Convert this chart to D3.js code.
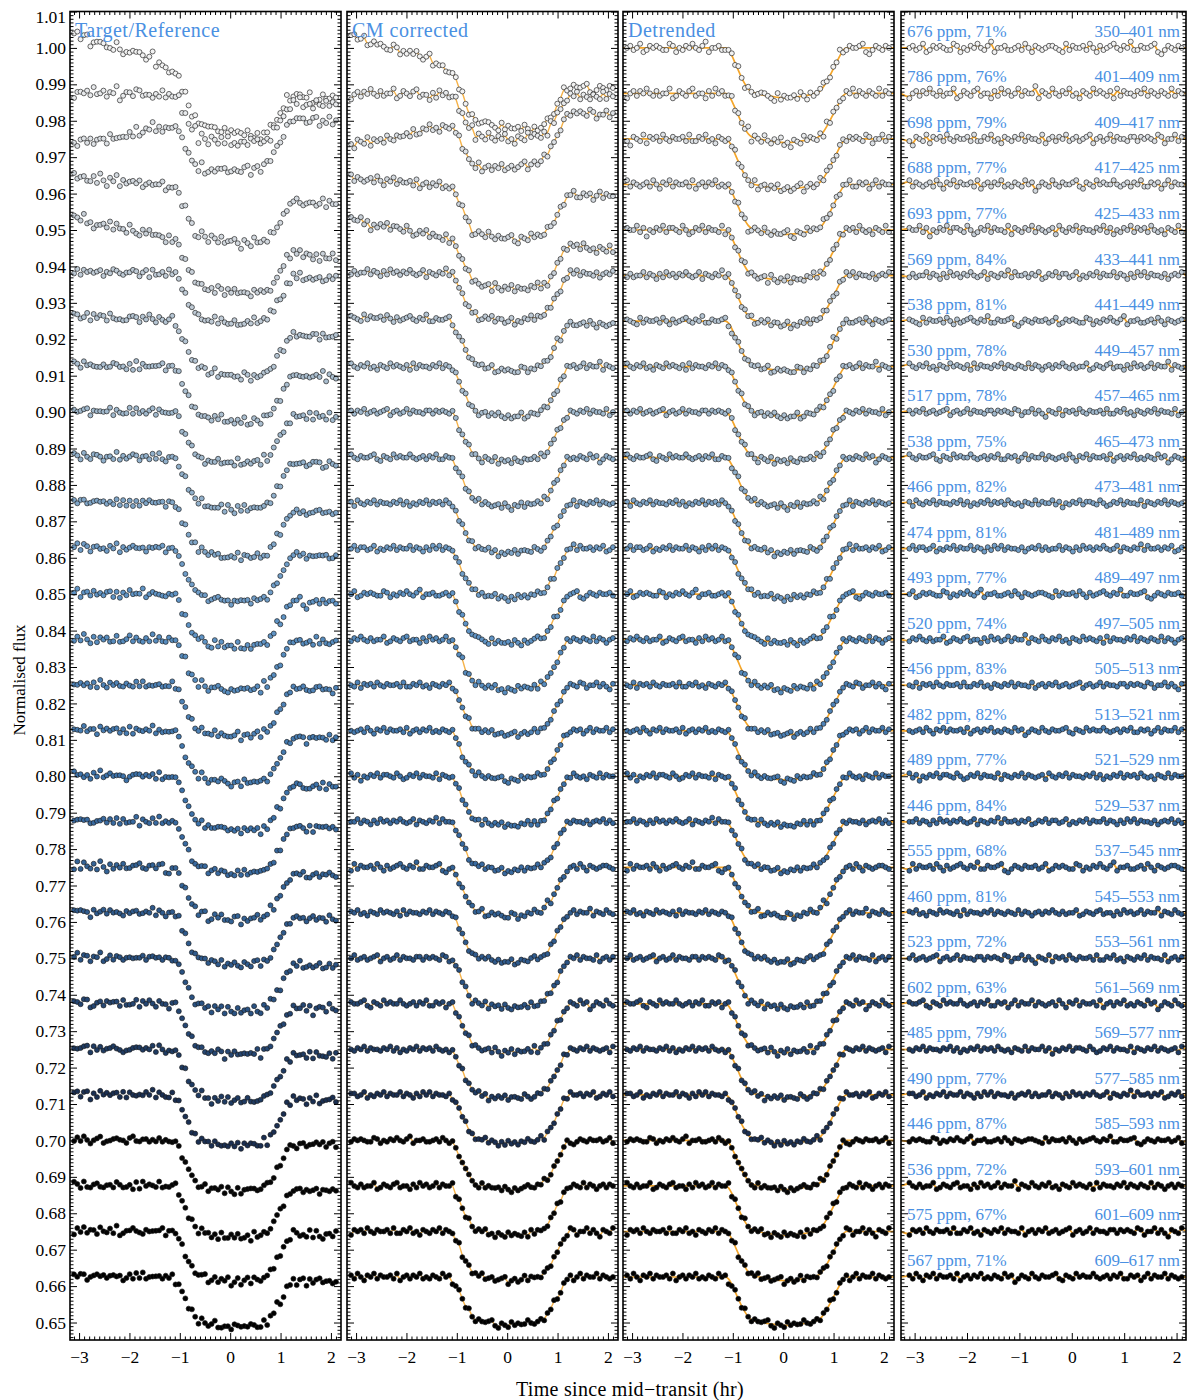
<!DOCTYPE html>
<html>
<head>
<meta charset="utf-8">
<script src="https://cdn.jsdelivr.net/npm/d3@7"></script>
<style>
  body { margin: 0; background: #fff; }
  svg { display: block; font-family: "Liberation Serif", "Times New Roman", serif; }
</style>
</head>
<body>
<div id="chart"></div>
<script>
// ---- data ----

// time since mid-transit (hr) of each exposure
const times = [
  -3.100, -3.035, -2.970, -2.905, -2.840, -2.775, -2.710, -2.645, -2.580, -2.515,
  -2.450, -2.385, -2.320, -2.255, -2.190, -2.125, -2.060, -1.995, -1.930, -1.865,
  -1.800, -1.735, -1.670, -1.605, -1.540, -1.475, -1.410, -1.345, -1.280, -1.215,
  -1.150, -1.085, -1.020, -0.955, -0.890, -0.825, -0.760, -0.695, -0.630, -0.565,
  -0.500, -0.435, -0.370, -0.305, -0.240, -0.175, -0.110, -0.045, 0.020, 0.085,
  0.150, 0.215, 0.280, 0.345, 0.410, 0.475, 0.540, 0.605, 0.670, 0.735,
  0.800, 0.865, 0.930, 0.995, 1.060, 1.125, 1.190, 1.255, 1.320, 1.385,
  1.450, 1.515, 1.580, 1.645, 1.710, 1.775, 1.840, 1.905, 1.970, 2.035,
  2.100
];

// transit model as a fraction of the full depth, one value per exposure
const transitShape = [
  0, 0, 0, 0, 0, 0, 0, 0, 0, 0,
  0, 0, 0, 0, 0, 0, 0, 0, 0, 0,
  0, 0, 0, 0, 0, 0, 0, 0, 0, 0,
  0, 0.04, 0.15, 0.30, 0.45, 0.60, 0.72, 0.82, 0.88, 0.905,
  0.92, 0.935, 0.95, 0.96, 0.97, 0.98, 0.99, 0.995, 1.0, 1.0,
  0.995, 0.99, 0.98, 0.97, 0.96, 0.95, 0.935, 0.92, 0.90, 0.86,
  0.78, 0.67, 0.55, 0.42, 0.29, 0.16, 0.05, 0, 0, 0,
  0, 0, 0, 0, 0, 0, 0, 0, 0, 0,
  0
];

// out-of-transit level of each light curve (offset for display)
const baselines = [
  1.0000, 0.9875, 0.9750, 0.9625, 0.9500, 0.9375, 0.9250, 0.9125, 0.9000, 0.8875,
  0.8750, 0.8625, 0.8500, 0.8375, 0.8250, 0.8125, 0.8000, 0.7875, 0.7750, 0.7625,
  0.7500, 0.7375, 0.7250, 0.7125, 0.7000, 0.6875, 0.6750, 0.6625
];

// transit depth of each light curve
const depths = [
  0.0137, 0.0135, 0.0138, 0.0137, 0.0139, 0.0136, 0.0137, 0.0138, 0.0136, 0.0135,
  0.0137, 0.0136, 0.0135, 0.0137, 0.0136, 0.0135, 0.0136, 0.0135, 0.0134, 0.0135,
  0.0136, 0.0134, 0.0135, 0.0134, 0.0135, 0.0136, 0.0135, 0.0133
];

// residual scatter (ppm) and percentage labels of the residual panel
const ppm = [
  676, 786, 698, 688, 693, 569, 538, 530, 517, 538,
  466, 474, 493, 520, 456, 482, 489, 446, 555, 460,
  523, 602, 485, 490, 446, 536, 575, 567
];
const fitPct = [
  71, 76, 79, 77, 77, 84, 81, 78, 78, 75,
  82, 81, 77, 74, 83, 82, 77, 84, 68, 81,
  72, 63, 79, 77, 87, 72, 67, 71
];
const wavebands = [
  "350–401", "401–409", "409–417", "417–425", "425–433", "433–441", "441–449",
  "449–457", "457–465", "465–473", "473–481", "481–489", "489–497", "497–505",
  "505–513", "513–521", "521–529", "529–537", "537–545", "545–553", "553–561",
  "561–569", "569–577", "577–585", "585–593", "593–601", "601–609", "609–617"
];

// slow systematics, given at a few times
const trendTimes = [-3.1, -2.5, -2.0, -1.5, -1.2, -0.6, 0, 0.6, 1.1, 1.5, 2.1];
// trends left after common-mode correction (bluest curves only)
const cmCorrectedTrends = [
  [0.0035, 0.0005, -0.0010, -0.0035, -0.0060, -0.0078, -0.0082, -0.0095, -0.0103, -0.0110, -0.0110],
  [-0.0003, 0.0000, 0.0000, -0.0005, -0.0005, 0.0005, 0.0010, 0.0008, -0.0005, -0.0010, -0.0008],
  [-0.0008, -0.0006, 0.0010, 0.0030, 0.0033, 0.0048, 0.0058, 0.0062, 0.0070, 0.0070, 0.0065],
  [0.0016, 0.0010, 0.0005, -0.0002, -0.0005, -0.0010, -0.0013, -0.0017, -0.0028, -0.0030, -0.0032],
  [0.0030, 0.0010, 0.0000, -0.0015, -0.0024, -0.0022, -0.0023, -0.0028, -0.0040, -0.0048, -0.0055],
  [0.0008, 0.0008, 0.0006, 0.0005, 0.0005, 0.0010, 0.0010, 0.0010, 0.0005, 0.0005, 0.0003],
  [0.0010, 0.0008, 0.0005, 0.0004, 0.0003, 0.0003, 0.0000, 0.0000, -0.0005, -0.0008, -0.0010]
];
// common-mode trend present in target/reference, and its strength per curve
const cmTrend = [0.0004, 0.0001, 0, 0, 0, -0.0006, -0.0010, -0.0015, -0.0020, -0.0022, -0.0022];
const cmAmp = [
  1.2, 1.0, 0.9, 1.0, 1.0, 0.6, 1.5, 1.3, 0.6, 0.8,
  1.2, 1.0, 1.0, 0.3, 0.5, 1.0, 1.3, 0.8, 1.0, 0.8,
  1.0, 0.6, 0.8, 0.7, 0.5, 0.6, 0.4, 0.6
];

// point-to-point scatter, digits 0..8 with 4 = no offset
const residualPatterns = [
  "4534623545 4336524354 6435724453 3453642543 4554326354 4536425345 6435473354 4562135435 4",
  "5436354245 3546435344 6235435634 4253645346 3544725436 4354634254 3645435263 5443546354 3",
  "3545436524 4635315436 2545364354 4536335463 4254354635 4436245354 6345345624 5346354435 5",
  "6434535463 3545246354 4635434536 4254635445 3624535463 4354364513 5436435445 6325436454 4",
  "4354635243 5463545364 3425436354 4635143546 3554364235 4635443625 4354635434 5264354635 4",
  "5346243546 3544635425 3646354435 2454635344 6354253645 3546434625 4354736445 3546235463 5"
].map(s => s.replace(/ /g, ""));
// common-mode scatter shared by all target/reference curves
const commonNoise = "4536425364 3546243546 3544635423 5463544536 4235463544 6354354263 5463453546 4253645354 4".replace(/ /g, "");

const panelTitles = ["Target/Reference", "CM corrected", "Detrended", ""];
const xTicks = [-3, -2, -1, 0, 1, 2];
const yTicks = [
  1.01, 1.00, 0.99, 0.98, 0.97, 0.96, 0.95, 0.94, 0.93, 0.92, 0.91, 0.90, 0.89,
  0.88, 0.87, 0.86, 0.85, 0.84, 0.83, 0.82, 0.81, 0.80, 0.79, 0.78, 0.77, 0.76,
  0.75, 0.74, 0.73, 0.72, 0.71, 0.70, 0.69, 0.68, 0.67, 0.66, 0.65
];

// ---- layout ----
const width = 1187, height = 1400;
const yTop = 11.5, yBottom = 1340;
const panelBoxes = [
  {x0: 70, x1: 341, domain: [-3.18, 2.2]},
  {x0: 347, x1: 618, domain: [-3.18, 2.2]},
  {x0: 623, x1: 894, domain: [-3.18, 2.2]},
  {x0: 901, x1: 1186, domain: [-3.26, 2.18]}
];
const orange = "#f5a62a";
const labelBlue = "#4a90e2";

const colour = d3.scaleLinear()
  .domain([0, 4, 8, 12, 16, 20, 23, 24, 27])
  .range(["#f2f2f2", "#c8d0d8", "#a0b8cc", "#5f93c4", "#3c71a8", "#2a5282", "#1a2f52", "#060606", "#000000"]);

// ---- build the series ----
const N = times.length;
const trendScale = vals => d3.scaleLinear().domain(trendTimes).range(vals).clamp(true);
const cmScale = trendScale(cmTrend);

function residual(i, k) {
  const pat = residualPatterns[i % residualPatterns.length];
  return (+pat.charAt((k + 7 * i) % N) - 4) * 0.85 * ppm[i] * 1e-6;
}

const curves = baselines.map((b, i) => {
  const tr = cmCorrectedTrends[i] ? trendScale(cmCorrectedTrends[i]) : () => 0;
  return times.map((t, k) => {
    const r = residual(i, k);
    const model = b - depths[i] * transitShape[k];
    const cm = model + r + tr(t);
    return {
      t,
      raw: cm + cmAmp[i] * cmScale(t) + (+commonNoise.charAt(k) - 4) * 0.0003,
      cm,
      det: model + r,
      res: b + r,
      model
    };
  });
});

// ---- draw ----
const svg = d3.select("#chart").append("svg")
  .attr("width", width)
  .attr("height", height);

const y = d3.scaleLinear().domain([0.6452, 1.01]).range([yBottom, yTop]);
const xMinor = d3.range(-32, 22).map(d => d / 10).filter(d => Math.abs(d - Math.round(d)) > 1e-6);
const yMinor = d3.range(646, 1010).map(d => d / 1000).filter(d => (Math.round(d * 1000) % 10) !== 0);

const fields = ["raw", "cm", "det", "res"];

panelBoxes.forEach((p, pi) => {
  const x = d3.scaleLinear().domain(p.domain).range([p.x0, p.x1]);
  const g = svg.append("g");

  const clipId = "clip" + pi;
  svg.append("clipPath").attr("id", clipId)
    .append("rect")
    .attr("x", p.x0).attr("y", yTop)
    .attr("width", p.x1 - p.x0).attr("height", yBottom - yTop);

  const plot = g.append("g").attr("clip-path", `url(#${clipId})`);
  const key = fields[pi];

  // orange fits under the points
  if (pi === 1) {
    const line = d3.line().x(d => x(d.t)).y(d => y(d.cm)).curve(d3.curveBasis);
    plot.selectAll(".fit").data(curves).join("path")
      .attr("d", line)
      .attr("fill", "none").attr("stroke", orange).attr("stroke-width", 1.4).attr("opacity", 0.85);
  }
  if (pi === 2) {
    const line = d3.line().x(d => x(d.t)).y(d => y(d.v)).curve(d3.curveMonotoneX);
    plot.selectAll(".fit").data(curves).join("path")
      .attr("d", (c, i) => line([{t: p.domain[0], v: baselines[i]}]
        .concat(c.map(d => ({t: d.t, v: d.model})))
        .concat([{t: p.domain[1], v: baselines[i]}])))
      .attr("fill", "none").attr("stroke", orange).attr("stroke-width", 1.7);
  }
  if (pi === 3) {
    const line = d3.line().x(d => x(d.t)).y(d => y(d.v)).curve(d3.curveBasis);
    plot.selectAll(".fit").data(curves).join("path")
      .attr("d", (c, i) => line([{t: p.domain[0], v: baselines[i]}]
        .concat(c.map(d => ({t: d.t, v: d.res})))
        .concat([{t: p.domain[1], v: baselines[i]}])))
      .attr("fill", "none").attr("stroke", orange).attr("stroke-width", 1.8);
  }

  plot.selectAll(".lc").data(curves).join("g")
      .attr("fill", (c, i) => colour(i))
    .selectAll("circle")
    .data(c => c)
    .join("circle")
      .attr("cx", d => x(d.t))
      .attr("cy", d => y(d[key]))
      .attr("r", 2.5)
      .attr("stroke", "#1a1a1a")
      .attr("stroke-width", 0.65);

  // axes: ticks inward on all four sides
  const tidy = sel => {
    sel.select(".domain").remove();
    sel.attr("font-family", null).attr("font-size", 17.5);
    sel.selectAll("line").attr("stroke", "#000");
    sel.selectAll("text").attr("fill", "#000");
  };
  const xMinorHere = xMinor.filter(d => d >= p.domain[0] && d <= p.domain[1]);
  g.append("g").attr("transform", `translate(0,${yBottom})`)
    .call(d3.axisBottom(x).tickValues(xTicks).tickSize(-7).tickPadding(11).tickFormat(d3.format("d"))).call(tidy);
  g.append("g").attr("transform", `translate(0,${yBottom})`)
    .call(d3.axisBottom(x).tickValues(xMinorHere).tickSize(-3.5).tickFormat("")).call(tidy);
  g.append("g").attr("transform", `translate(0,${yTop})`)
    .call(d3.axisTop(x).tickValues(xTicks).tickSize(-7).tickFormat("")).call(tidy);
  g.append("g").attr("transform", `translate(0,${yTop})`)
    .call(d3.axisTop(x).tickValues(xMinorHere).tickSize(-3.5).tickFormat("")).call(tidy);

  const left = g.append("g").attr("transform", `translate(${p.x0},0)`)
    .call(d3.axisLeft(y).tickValues(yTicks).tickSize(-7).tickPadding(4)
      .tickFormat(pi === 0 ? d3.format(".2f") : "")).call(tidy);
  // top label sits a little low in the original
  left.selectAll(".tick text").filter(d => d === 1.01).attr("dy", "0.62em");
  g.append("g").attr("transform", `translate(${p.x0},0)`)
    .call(d3.axisLeft(y).tickValues(yMinor).tickSize(-3.5).tickFormat("")).call(tidy);
  g.append("g").attr("transform", `translate(${p.x1},0)`)
    .call(d3.axisRight(y).tickValues(yTicks).tickSize(-7).tickFormat("")).call(tidy);
  g.append("g").attr("transform", `translate(${p.x1},0)`)
    .call(d3.axisRight(y).tickValues(yMinor).tickSize(-3.5).tickFormat("")).call(tidy);

  g.append("rect")
    .attr("x", p.x0).attr("y", yTop)
    .attr("width", p.x1 - p.x0).attr("height", yBottom - yTop)
    .attr("fill", "none").attr("stroke", "#000").attr("stroke-width", 1.6);

  if (panelTitles[pi]) {
    g.append("text")
      .attr("x", p.x0 + 5).attr("y", 37)
      .attr("fill", labelBlue).attr("font-size", 20).attr("letter-spacing", 0.5)
      .text(panelTitles[pi]);
  }

  if (pi === 3) {
    g.selectAll(".lab-l").data(baselines).join("text")
      .attr("x", p.x0 + 6).attr("y", b => y(b) - 11)
      .attr("fill", labelBlue).attr("font-size", 17)
      .text((b, i) => `${ppm[i]} ppm, ${fitPct[i]}%`);
    g.selectAll(".lab-r").data(baselines).join("text")
      .attr("x", p.x1 - 6).attr("y", b => y(b) - 11)
      .attr("text-anchor", "end")
      .attr("fill", labelBlue).attr("font-size", 17)
      .text((b, i) => `${wavebands[i]} nm`);
  }
});

svg.append("text")
  .attr("transform", "translate(25,680) rotate(-90)")
  .attr("text-anchor", "middle")
  .attr("font-size", 17)
  .text("Normalised flux");

svg.append("text")
  .attr("x", 630).attr("y", 1396)
  .attr("text-anchor", "middle")
  .attr("font-size", 20).attr("letter-spacing", 0.3)
  .text("Time since mid−transit (hr)");
</script>
</body>
</html>
